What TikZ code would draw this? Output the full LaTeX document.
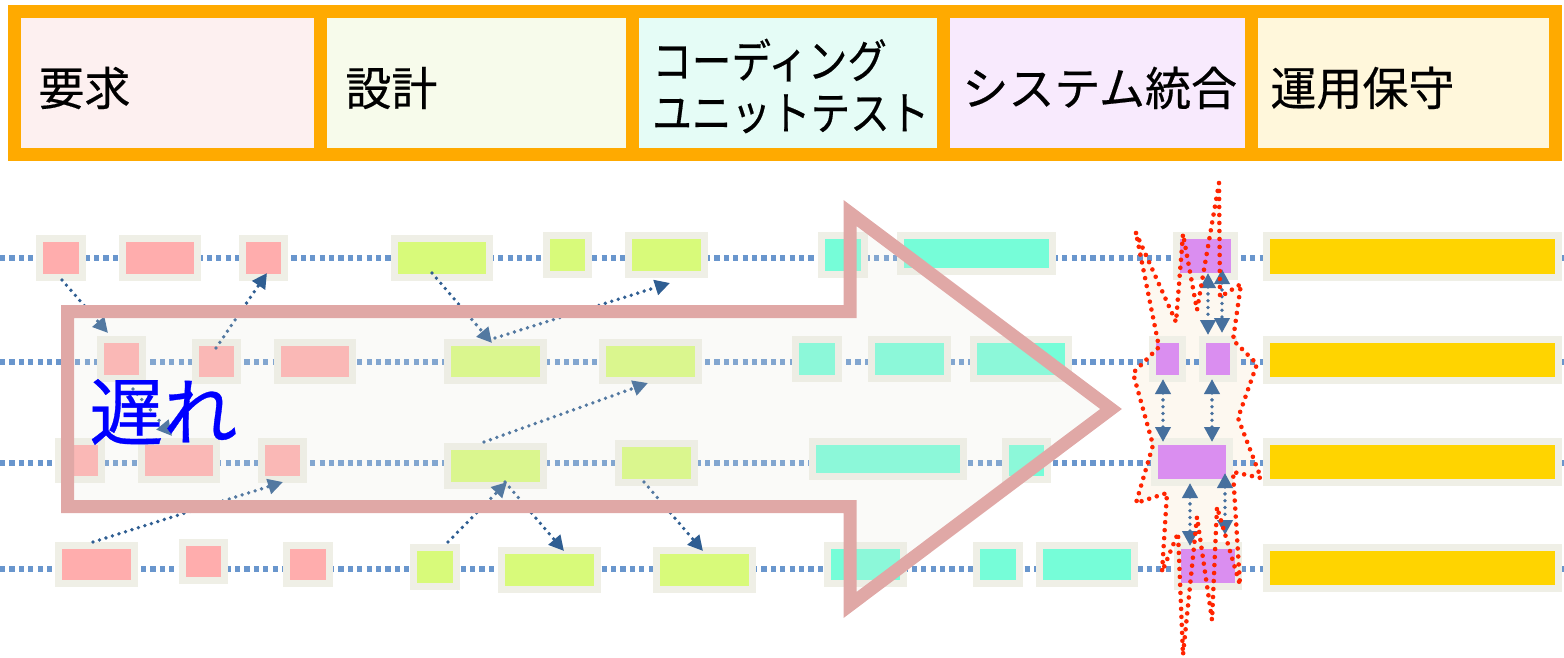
\documentclass[tikz,border=0pt]{standalone}
\usepackage{fontspec}
\newfontfamily\jp[FakeBold=0.4]{Noto Sans CJK JP}
\usetikzlibrary{arrows.meta,calc}
\definecolor{hdrorange}{HTML}{FFAA00}
\definecolor{h1fill}{HTML}{FDF0F0}
\definecolor{h2fill}{HTML}{F7FBEB}
\definecolor{h3fill}{HTML}{E5FCF6}
\definecolor{h4fill}{HTML}{F8EAFD}
\definecolor{h5fill}{HTML}{FFF7DB}
\definecolor{boxbd}{HTML}{EFEFE6}
\definecolor{pinkc}{HTML}{FFADAD}
\definecolor{greenc}{HTML}{D8FA7A}
\definecolor{cyanc}{HTML}{76FDD8}
\definecolor{purplec}{HTML}{DA8EF0}
\definecolor{yellowc}{HTML}{FFD400}
\definecolor{rowblue}{HTML}{6996CD}
\definecolor{linkblue}{HTML}{2F5E92}
\definecolor{linkblue2}{HTML}{46709E}
\definecolor{arrowpink}{HTML}{E0A8A6}
\definecolor{arrowfill}{HTML}{E6E6DE}
\definecolor{burstred}{HTML}{FF2400}
\definecolor{burstfill}{HTML}{FDF8F0}
\definecolor{delayblue}{HTML}{0000FF}
\tikzset{
  bx/.style={draw=boxbd, line width=3.5pt, inner sep=0pt, outer sep=0pt},
  hdr/.style={draw=hdrorange, line width=6.5pt, inner sep=0pt, outer sep=0pt},
  htext/.style={font=\jp\fontsize{23pt}{26pt}\selectfont, anchor=west, inner sep=0pt, align=left},
  rowline/.style={draw=rowblue, line width=2.6pt, dash pattern=on 2.6pt off 2.1pt},
  link/.style={draw=linkblue, line width=1.9pt, dash pattern=on 0pt off 3.4pt, line cap=round,
    -{Triangle[length=7.5pt,width=7.5pt,fill=linkblue]}},
  dlink/.style={draw=linkblue2, line width=1.9pt, dash pattern=on 0pt off 3.4pt, line cap=round,
    {Triangle[length=7.5pt,width=7.5pt,fill=linkblue2]}-{Triangle[length=7.5pt,width=7.5pt,fill=linkblue2]}},
  bigarrow/.style={draw=arrowpink, line width=6.5pt, miter limit=10, fill=arrowfill, fill opacity=0.2, draw opacity=1},
  burstline/.style={draw=burstred, line width=2.3pt, dash pattern=on 0pt off 4pt, line cap=round},
}
\newcommand\mybox[6]{\node[bx, fill=#2, minimum width={(#5-#3-7)*0.5pt}, minimum height={(#6-#4-7)*0.5pt}] (#1) at ({(#3+#5)/2},{(#4+#6)/2}) {};}
\newcommand\myhdr[4]{\node[hdr, fill=#2, minimum width={(#4-#3)*0.5pt}, minimum height={143*0.5pt}] (#1) at ({(#3+#4)/2},83) {};}
\begin{document}
\begin{tikzpicture}[x=0.5pt,y=-0.5pt]
\useasboundingbox (0,0) rectangle (1564,658);
% header
\myhdr{h1}{h1fill}{14.5}{320}
\myhdr{h2}{h2fill}{320}{632}
\myhdr{h3}{h3fill}{632}{943}
\myhdr{h4}{h4fill}{943}{1251}
\myhdr{h5}{h5fill}{1251}{1555.5}
\node[htext] (t1) at (38,88) {要求};
\node[htext] (t2) at (345,88) {設計};
\node[htext, xscale=0.86] (t3) at (652,86) {コーディング\\ユニットテスト};
\node[htext] (t4) at (962,88) {システム統合};
\node[htext] (t5) at (1270,88) {運用保守};
% burst coordinates
\coordinate (b1) at (1136,233);
\coordinate (b2) at (1176,322);
\coordinate (b3) at (1183,234);
\coordinate (b4) at (1197,310);
\coordinate (b5) at (1219,183);
\coordinate (b6) at (1220,297);
\coordinate (b7) at (1241,284);
\coordinate (b8) at (1233,340);
\coordinate (b9) at (1257,364);
\coordinate (b10) at (1238,418);
\coordinate (b11) at (1261,478);
\coordinate (b12) at (1233,472);
\coordinate (b13) at (1240,585);
\coordinate (b14) at (1217,507);
\coordinate (b15) at (1212,620);
\coordinate (b16) at (1197,517);
\coordinate (b17) at (1183,655);
\coordinate (b18) at (1178,533);
\coordinate (b19) at (1162,572);
\coordinate (b20) at (1167,493);
\coordinate (b21) at (1136,503);
\coordinate (b22) at (1153,445);
\coordinate (b23) at (1133,373);
\coordinate (b24) at (1159,347);
\fill[burstfill] (b1)--(b2)--(b3)--(b4)--(b5)--(b6)--(b7)--(b8)--(b9)--(b10)--(b11)--(b12)--(b13)--(b14)--(b15)--(b16)--(b17)--(b18)--(b19)--(b20)--(b21)--(b22)--(b23)--(b24)--cycle;
% row lines
\coordinate (r1w) at (0,258); \coordinate (r1e) at (1564,258);
\coordinate (r2w) at (0,362); \coordinate (r2e) at (1564,362);
\coordinate (r3w) at (0,463); \coordinate (r3e) at (1564,463);
\coordinate (r4w) at (0,569); \coordinate (r4e) at (1564,569);
\draw[rowline] (r1w) -- (r1e);
\draw[rowline] (r2w) -- (r2e);
\draw[rowline] (r3w) -- (r3e);
\draw[rowline] (r4w) -- (r4e);
% boxes
\mybox{p11}{pinkc}{36}{235}{86}{281}
\mybox{p12}{pinkc}{119}{235}{201}{281}
\mybox{p13}{pinkc}{239}{235}{288}{281}
\mybox{p21}{pinkc}{97}{336}{146}{382}
\mybox{p22}{pinkc}{192}{339}{241}{384}
\mybox{p23}{pinkc}{274}{339}{356}{384}
\mybox{p31}{pinkc}{55}{438}{105}{483}
\mybox{p32}{pinkc}{138}{438}{220}{483}
\mybox{p33}{pinkc}{258}{438}{307}{483}
\mybox{p41}{pinkc}{55}{542}{138}{587}
\mybox{p42}{pinkc}{179}{539}{228}{584}
\mybox{p43}{pinkc}{283}{542}{333}{587}
\mybox{g11}{greenc}{391}{235}{493}{281}
\mybox{g12}{greenc}{543}{232}{592}{278}
\mybox{g13}{greenc}{625}{232}{708}{278}
\mybox{g21}{greenc}{444}{339}{547}{384}
\mybox{g22}{greenc}{599}{339}{702}{384}
\mybox{g31}{greenc}{444}{443}{547}{489}
\mybox{g32}{greenc}{615}{440}{698}{486}
\mybox{g41}{greenc}{410}{544}{460}{590}
\mybox{g42}{greenc}{498}{547}{601}{593}
\mybox{g43}{greenc}{653}{547}{756}{593}
\mybox{c11}{cyanc}{818}{232}{868}{278}
\mybox{c12}{cyanc}{897}{232}{1056}{275}
\mybox{c21}{cyanc}{792}{336}{842}{382}
\mybox{c22}{cyanc}{868}{336}{951}{382}
\mybox{c23}{cyanc}{970}{336}{1072}{382}
\mybox{c31}{cyanc}{809}{438}{967}{480}
\mybox{c32}{cyanc}{1002}{438}{1051}{483}
\mybox{c41}{cyanc}{824}{542}{907}{587}
\mybox{c42}{cyanc}{973}{542}{1023}{587}
\mybox{c43}{cyanc}{1036}{542}{1138}{587}
\mybox{m1}{purplec}{1173}{232}{1238}{280}
\mybox{m21}{purplec}{1149}{336}{1186}{382}
\mybox{m22}{purplec}{1199}{336}{1237}{382}
\mybox{m3}{purplec}{1151}{438}{1233}{486}
\mybox{m4}{purplec}{1174}{542}{1242}{590}
\mybox{y1}{yellowc}{1263}{232}{1562}{281}
\mybox{y2}{yellowc}{1263}{336}{1562}{384}
\mybox{y3}{yellowc}{1263}{438}{1562}{486}
\mybox{y4}{yellowc}{1263}{544}{1562}{592}
% links
\draw[link] ([shift={(1,2.5)}]p11.south) -- ([shift={(-13.5,-6.5)}]p21.north);
\draw[link] ([shift={(-0.5,5.5)}]p22.north) -- ([shift={(3.5,-4.5)}]p13.south);
\draw[link] ([shift={(11.5,10.5)}]p21.south) -- ([shift={(-7,-5.5)}]p32.north);
\draw[link] ([shift={(-3.5,-3.5)}]p41.north) -- ([shift={(0.5,2.5)}]p33.south);
\draw[link] ([shift={(-10,-4.5)}]g11.south) -- ([shift={(-3.5,0.5)}]g21.north);
\draw[link] ([shift={(-0.5,-4.5)}]g21.north) -- ([shift={(3.5,8.5)}]g13.south);
\draw[link] ([shift={(-11.5,-4.5)}]g31.north) -- ([shift={(-2.5,2.5)}]g22.south);
\draw[link] ([shift={(13,-5.5)}]g41.north) -- ([shift={(11.5,-3.5)}]g31.south);
\draw[link] ([shift={(9.5,-3.5)}]g31.south) -- ([shift={(14.5,0.5)}]g42.north);
\draw[link] ([shift={(-12.5,-0.5)}]g32.south) -- ([shift={(-1.5,0.5)}]g43.north);
\draw[dlink] ([shift={(2.5,-3.5)}]m1.south) -- ([shift={(-10,-4.5)}]m22.north);
\draw[dlink] ([shift={(16.5,-7.5)}]m1.south) -- ([shift={(4,-6.5)}]m22.north);
\draw[dlink] ([shift={(-4.5,0.5)}]m21.south) -- ([shift={(-29,0.5)}]m3.north);
\draw[dlink] ([shift={(-6,0.5)}]m22.south) -- ([shift={(20,0.5)}]m3.north);
\draw[dlink] ([shift={(-2,0.5)}]m3.south) -- ([shift={(-18,0.5)}]m4.north);
\draw[dlink] ([shift={(33,-9.5)}]m3.south) -- ([shift={(17,-10.5)}]m4.north);
% big arrow
\coordinate (a1) at (67.5,311.5);
\coordinate (a2) at (850,311.5);
\coordinate (a3) at (850,213);
\coordinate (a4) at (1111,409);
\coordinate (a5) at (850,605);
\coordinate (a6) at (850,506.5);
\coordinate (a7) at (67.5,506.5);
\path[bigarrow] (a1)--(a2)--(a3)--(a4)--(a5)--(a6)--(a7)--cycle;
% burst outline
\draw[burstline] (b1)--(b2)--(b3)--(b4)--(b5)--(b6)--(b7)--(b8)--(b9)--(b10)--(b11)--(b12)--(b13)--(b14)--(b15)--(b16)--(b17)--(b18)--(b19)--(b20)--(b21)--(b22)--(b23)--(b24)--cycle;
% delay label
\node[font=\jp\fontsize{37pt}{40pt}\selectfont, text=delayblue, anchor=west, inner sep=0pt] (delay) at (89,412) {遅れ};
\end{tikzpicture}
\end{document}
